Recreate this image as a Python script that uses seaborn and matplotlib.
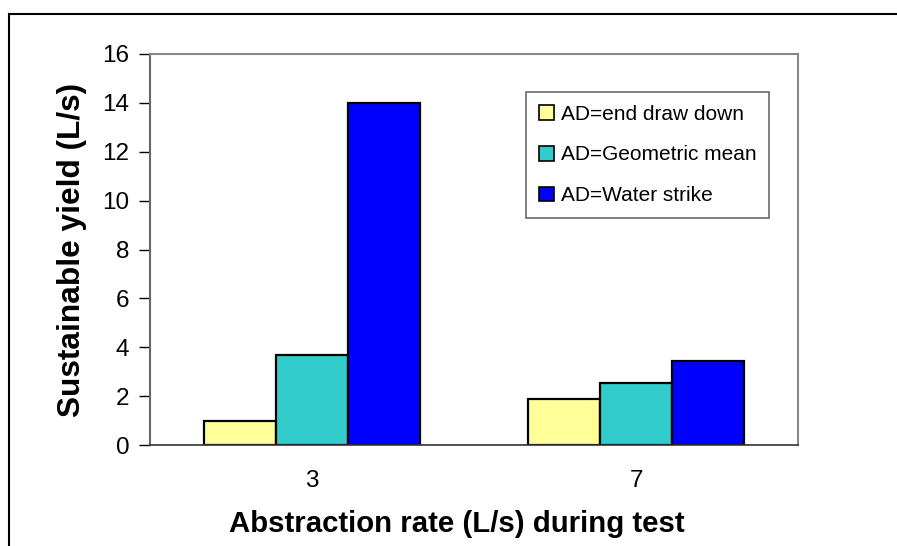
import matplotlib
matplotlib.use("Agg")
import matplotlib.pyplot as plt
import matplotlib.patches as mpatches
import seaborn as sns
import pandas as pd

categories = ["3", "7"]
series_names = ["AD=end draw down", "AD=Geometric mean", "AD=Water strike"]
end_drawdown = [1.0, 1.9]
geometric_mean = [3.7, 2.55]
water_strike = [14.0, 3.45]
colors = ["#FFFF99", "#33CCCC", "#0000FF"]
yticks = [0, 2, 4, 6, 8, 10, 12, 14, 16]

rows = []
for name, vals in zip(series_names, [end_drawdown, geometric_mean, water_strike]):
    for c, v in zip(categories, vals):
        rows.append({"rate": c, "series": name, "yield": v})
df = pd.DataFrame(rows)

sns.set_style("white")
plt.rcParams["font.family"] = ["Liberation Sans", "DejaVu Sans"]
plt.rcParams["text.color"] = "black"
plt.rcParams["axes.labelcolor"] = "black"
plt.rcParams["xtick.color"] = "black"
plt.rcParams["ytick.color"] = "black"

fig = plt.figure(figsize=(8.97, 5.46), dpi=100)
ax = fig.add_axes([150/897, 1-445/546, (798-150)/897, (445-54)/546])

sns.barplot(data=df, x="rate", y="yield", hue="series", order=categories,
            hue_order=series_names, palette=colors, width=0.667, gap=0,
            edgecolor="black", linewidth=1.6, saturation=1, ax=ax, legend=False)

ax.set_xlim(-0.5, 1.5)
ax.set_ylim(0, 16)
ax.set_yticks(yticks)
ax.set_yticklabels([str(t) for t in yticks])
ax.set_xticks([0, 1])
ax.set_xticklabels(categories)
ax.set_xticks([-0.5, 0.5, 1.5], minor=True)
ax.tick_params(axis="x", which="major", length=0, pad=18, labelsize=17.5,
               labelcolor="black")
ax.tick_params(axis="x", which="minor", length=8, width=1.2, color="#555555")
ax.tick_params(axis="y", which="major", length=8, width=1.0, color="black",
               left=True, pad=7, labelsize=17.5, labelcolor="black")

for s in ["top", "right"]:
    ax.spines[s].set_color("#888888")
    ax.spines[s].set_linewidth(1.5)
ax.spines["left"].set_color("#666666")
ax.spines["left"].set_linewidth(1.5)
ax.spines["bottom"].set_color("#333333")
ax.spines["bottom"].set_linewidth(1.2)

ax.set_xlabel("Abstraction rate (L/s) during test", fontsize=21.2,
              fontweight="bold", labelpad=13, color="black")
ax.xaxis.label.set_x((457 - 150) / 648)
ax.set_ylabel("Sustainable yield (L/s)", fontsize=22.8, fontweight="bold",
              labelpad=11, color="black")

handles = [mpatches.Patch(facecolor=c, edgecolor="black", linewidth=1.2, label=n)
           for c, n in zip(colors, series_names)]
leg = fig.legend(handles=handles, loc="upper left",
                 bbox_to_anchor=(526/897, 1-92/546), fontsize=15,
                 frameon=True, fancybox=False, shadow=False,
                 handlelength=0.72, handleheight=0.72, handletextpad=0.35,
                 labelspacing=1.05, borderpad=0.6, borderaxespad=0)
leg.get_frame().set_edgecolor("#444444")
leg.get_frame().set_linewidth(1.2)
leg.get_frame().set_facecolor("white")
for t in leg.get_texts():
    t.set_color("black")

# outer chart border (left and top visible)
border = mpatches.Rectangle((9/897, -0.05), 1.2, 1 - 14/546 + 0.05,
                            transform=fig.transFigure, fill=False,
                            edgecolor="black", linewidth=1.5, clip_on=False)
fig.patches.append(border)

fig.savefig("out.png", dpi=100)
